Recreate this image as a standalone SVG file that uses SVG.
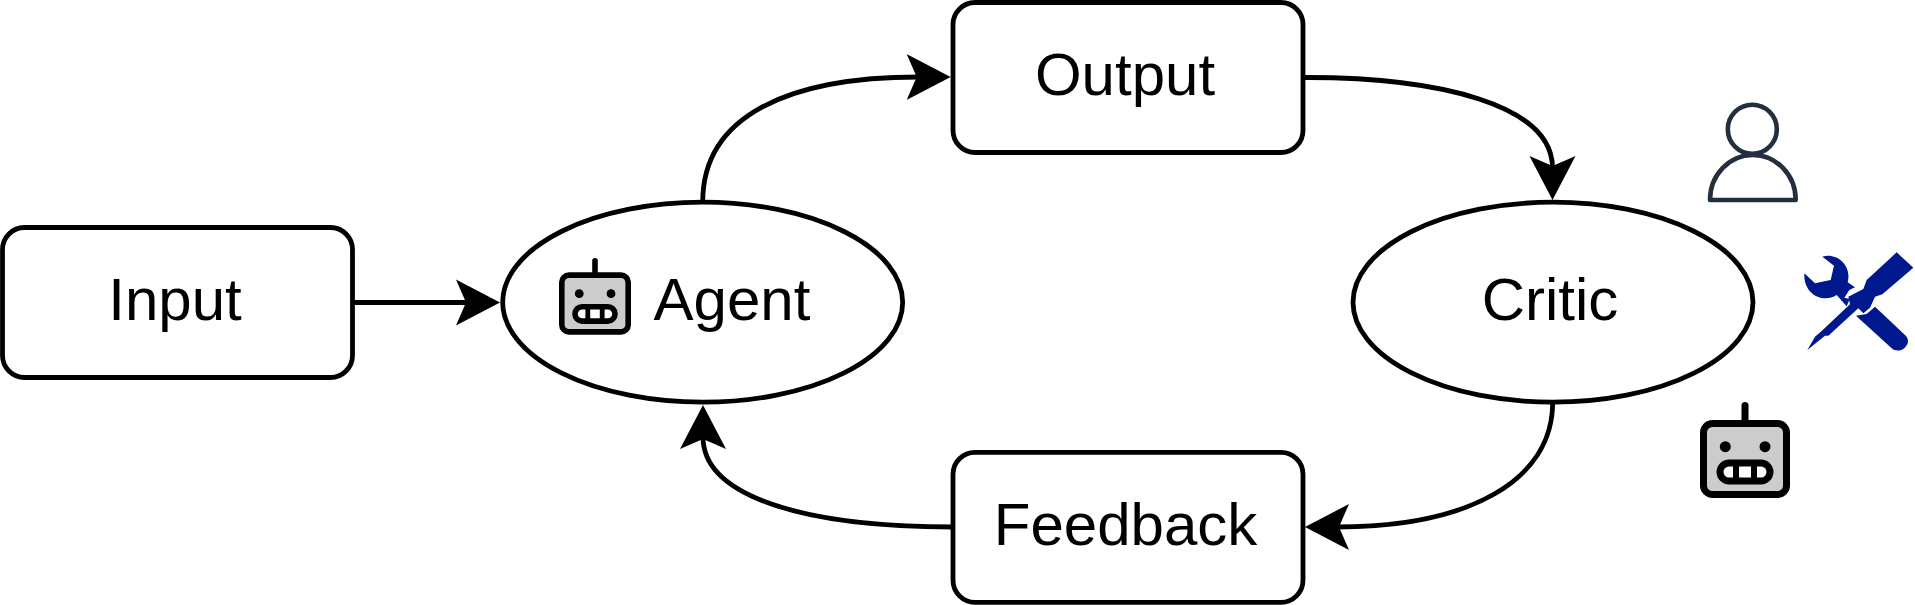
<svg xmlns="http://www.w3.org/2000/svg" xmlns:xlink="http://www.w3.org/1999/xlink" width="1915" height="605" viewBox="0 0 1915 605">
<style>
.node{fill:#fff;stroke:#000;stroke-width:4.8}
.lbl{font-family:"Liberation Sans",Arial,sans-serif;font-size:60px;fill:#000;text-anchor:middle}
.edge{fill:none;stroke:#000;stroke-width:4.8;marker-end:url(#head)}
</style>
<defs>
<marker id="head" markerUnits="userSpaceOnUse" viewBox="0 0 44 48" refX="12" refY="24" markerWidth="44" markerHeight="48" orient="auto">
<polygon points="0,1 44,24 0,47 10,24" fill="#000"/>
</marker>
<g id="robot">
<rect x="-41.5" y="3.5" width="83" height="71" rx="9" fill="#ccc" stroke="#000" stroke-width="7"/>
<path d="M0,3V-14.5" fill="none" stroke="#000" stroke-width="7" stroke-linecap="round"/>
<circle cx="-19.7" cy="26.7" r="5.5" fill="#000"/>
<circle cx="20" cy="26.7" r="5.5" fill="#000"/>
<rect x="-25" y="43" width="50" height="18" rx="9" fill="#fff" stroke="#000" stroke-width="7"/>
<path d="M-9,43V61M9,43V61" fill="none" stroke="#000" stroke-width="6"/>
</g>
</defs>
<rect width="1915" height="605" fill="#fff"/>
<g id="connectors">
<path class="edge" d="M352.5,302.5H468"/>
<path class="edge" d="M702.7,202C702.7,115 790,77 918.7,77"/>
<path class="edge" d="M1302.7,77.5C1440,77 1552.5,105 1552.5,168"/>
<path class="edge" d="M1552.7,402C1552.7,480 1470,527 1337,527"/>
<path class="edge" d="M953,527C800,527 703,495 703,437"/>
</g>
<g id="node-input">
<rect class="node" x="2.5" y="227.5" width="350" height="150" rx="22"/>
<text class="lbl" x="175" y="320">Input</text>
</g>
<g id="node-agent">
<ellipse class="node" cx="702.7" cy="302.2" rx="200" ry="100"/>
<use href="#robot" xlink:href="#robot" transform="translate(595,272.3) scale(.8)"/>
<text class="lbl" x="732" y="319.5">Agent</text>
</g>
<g id="node-output">
<rect class="node" x="953" y="2.5" width="350" height="150" rx="22"/>
<text class="lbl" x="1125" y="95">Output</text>
</g>
<g id="node-critic">
<ellipse class="node" cx="1553" cy="302.2" rx="200" ry="100"/>
<text class="lbl" x="1550" y="320">Critic</text>
</g>
<g id="node-feedback">
<rect class="node" x="953" y="452.3" width="350" height="150" rx="22"/>
<text class="lbl" x="1125.5" y="545">Feedback</text>
</g>
<g id="icon-user" fill="none" stroke="#232f3e" stroke-width="4.6" stroke-linejoin="round">
<circle cx="1752.3" cy="129.3" r="24.5"/>
<path d="M1710,200A42.85,45 0 0 1 1795.7,200Z"/>
</g>
<g id="icon-tools" transform="translate(1795,245) scale(.33333)" fill="#00188d">
<path d="M82,35C120,22 165,55 160,100L158,112L180,127L163,135L148,158L164,162L155,184L125,150C85,175 25,150 28,85L60,115L107,105L117,62Z"/>
<path d="M305,22L355,68L262,148L240,155L225,188L205,205L190,190L100,272L90,272L37,315L60,275L80,258L165,178L160,155L205,132L215,105Z"/>
<path d="M183,212L215,207L240,185L330,270C345,285 340,300 325,312C312,320 298,317 290,310Z"/>
</g>
<g id="icon-robot">
<use href="#robot" xlink:href="#robot" transform="translate(1745,420)"/>
</g>
</svg>
